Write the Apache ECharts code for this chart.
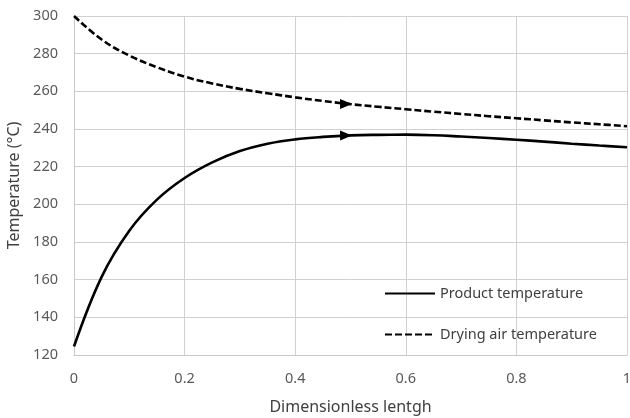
<!DOCTYPE html>
<html><head><meta charset="utf-8">
<script src="https://cdn.jsdelivr.net/npm/echarts@6/dist/echarts.min.js"></script>
<style>html,body{margin:0;padding:0;background:#fff}#c{width:630px;height:418px}</style>
</head><body><div id="c"></div>
<script>
var xs = [0, 0.05, 0.1, 0.15, 0.2, 0.25, 0.3, 0.35, 0.4, 0.45, 0.5, 0.55, 0.6, 0.65, 0.7, 0.75, 0.8, 0.85, 0.9, 0.95, 1];
var product = [124.5, 161.5, 186, 202.5, 214, 222.3, 228.3, 232.2, 234.5, 235.8, 236.6, 236.9, 237, 236.7, 236, 235.2, 234.3, 233.3, 232.2, 231.2, 230.3];
var air = [300, 287.5, 279, 272.8, 267.8, 264.2, 261.3, 259, 256.8, 254.9, 253.2, 251.8, 250.5, 249.2, 248, 246.8, 245.7, 244.6, 243.5, 242.5, 241.5];
var arrowX = 0.492;
var arrowProduct = 236.5;
var arrowAir = 253.3;
var seriesNames = ['Product temperature', 'Drying air temperature'];

function pairs(a, b) { return a.map(function (v, i) { return [v, b[i]]; }); }
var font = 'Noto Sans';
var chart = echarts.init(document.getElementById('c'));
function arrowMark(x, y) {
  return {
    symbol: 'triangle', symbolSize: [10, 12], symbolRotate: -90,
    itemStyle: { color: '#000' }, label: { show: false },
    data: [{ coord: [x, y] }]
  };
}
chart.setOption({
  animation: false,
  grid: { left: 74, right: 3, top: 16, bottom: 63, containLabel: false, outerBoundsMode: 'none' },
  xAxis: {
    type: 'value', min: 0, max: 1, interval: 0.2,
    name: 'Dimensionless lentgh', nameLocation: 'middle', nameGap: 44,
    nameTextStyle: { fontFamily: font, fontSize: 16, color: '#404040' },
    axisLine: { show: true, lineStyle: { color: '#c8c8c8', width: 1 } },
    axisTick: { show: false },
    axisLabel: { fontFamily: font, fontSize: 14.5, color: '#595959', margin: 16 },
    splitLine: { show: true, lineStyle: { color: '#d0d0d0', width: 1 } }
  },
  yAxis: {
    type: 'value', min: 120, max: 300, interval: 20,
    name: 'Temperature (°C)', nameLocation: 'middle', nameGap: 50,
    nameTextStyle: { fontFamily: font, fontSize: 16, color: '#404040' },
    axisLine: { show: true, lineStyle: { color: '#c8c8c8', width: 1 } },
    axisTick: { show: false },
    axisLabel: { fontFamily: font, fontSize: 14.5, color: '#595959', margin: 16 },
    splitLine: { show: true, lineStyle: { color: '#d0d0d0', width: 1 } }
  },
  legend: {
    orient: 'vertical', left: 379, top: 281, itemGap: 26,
    itemWidth: 50, itemHeight: 14,
    itemStyle: { opacity: 0 },
    textStyle: { fontFamily: font, fontSize: 14.5, color: '#404040' },
    data: seriesNames
  },
  series: [
    {
      name: seriesNames[0], type: 'line', smooth: 0.4, showSymbol: false, symbol: 'none',
      lineStyle: { color: '#000', width: 2.6 }, itemStyle: { color: '#000' },
      data: pairs(xs, product),
      markPoint: arrowMark(arrowX, arrowProduct)
    },
    {
      name: seriesNames[1], type: 'line', smooth: 0.4, showSymbol: false, symbol: 'none',
      lineStyle: { color: '#000', width: 2.6, type: [7, 3] }, itemStyle: { color: '#000' },
      data: pairs(xs, air),
      markPoint: arrowMark(arrowX, arrowAir)
    }
  ]
});
</script></body></html>
